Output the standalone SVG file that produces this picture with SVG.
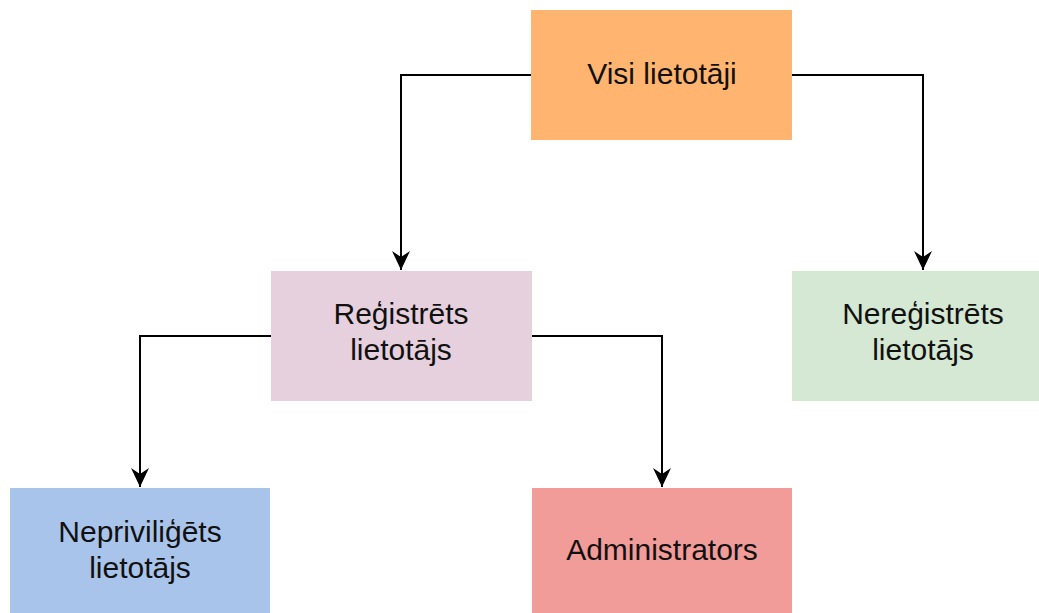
<svg xmlns="http://www.w3.org/2000/svg" width="1039" height="613" viewBox="0 0 1039 613">
<defs>
<style>
.n text{font-family:"Liberation Sans",Arial,sans-serif;font-size:30px;fill:#111;text-anchor:middle}
.c path{fill:none;stroke:#000;stroke-width:2}
</style>
<marker id="arr" markerUnits="userSpaceOnUse" viewBox="-20 -10 21 20" refX="0" refY="0" markerWidth="21" markerHeight="20" orient="auto">
<path d="M0,0 L-19,-9 L-13,0 L-19,9 Z" fill="#000"/>
</marker>
</defs>
<rect width="1039" height="613" fill="#fff"/>
<g class="c" id="connectors">
<path d="M531,75 H401 V270" marker-end="url(#arr)"/>
<path d="M792,75 H923 V270" marker-end="url(#arr)"/>
<path d="M271,336 H140 V487" marker-end="url(#arr)"/>
<path d="M532,336 H662 V487" marker-end="url(#arr)"/>
</g>
<g class="n" id="visi">
<rect x="531" y="10" width="261" height="130" fill="#FFB570"/>
<text x="662" y="84">Visi lietotāji</text>
</g>
<g class="n" id="registrets">
<rect x="271" y="271" width="261" height="130" fill="#E6D0DE"/>
<text x="401" y="324">Reģistrēts</text>
<text x="401" y="360">lietotājs</text>
</g>
<g class="n" id="neregistrets">
<rect x="792" y="271" width="261" height="130" fill="#D5E8D4"/>
<text x="923" y="324">Nereģistrēts</text>
<text x="923" y="360">lietotājs</text>
</g>
<g class="n" id="neprivilegets">
<rect x="10" y="488" width="260" height="130" fill="#A9C4EB"/>
<text x="140" y="542">Nepriviliģēts</text>
<text x="140" y="578">lietotājs</text>
</g>
<g class="n" id="administrators">
<rect x="532" y="488" width="260" height="130" fill="#F19C99"/>
<text x="662" y="560">Administrators</text>
</g>
</svg>
